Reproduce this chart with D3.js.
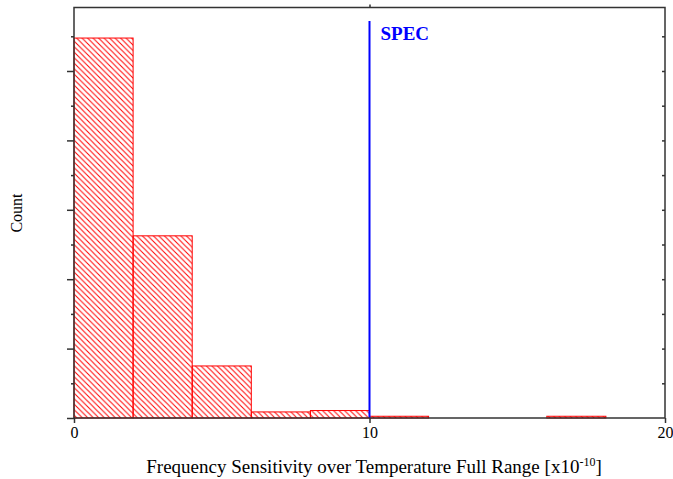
<!DOCTYPE html>
<html>
<head>
<meta charset="utf-8">
<script src="https://cdn.jsdelivr.net/npm/d3@7"></script>
<style>
	body { margin: 0; background: #fff; }
	svg { display: block; font-family: "Liberation Serif", "Times New Roman", serif; }
</style>
</head>
<body>
<script>
//histogram bins (lower edge, width 2) and counts
var binStarts = [0, 2, 4, 6, 8, 10, 12, 14, 16, 18];
var binWidth = 2;
var counts = [219, 105, 30, 3.5, 4.3, 1, 0, 0, 1, 0];
var xTicks = [0, 10, 20];
var specValue = 10;
var specLabel = "SPEC";

(function(){
	var width = 673,
		height = 479,
		plotLeft = 74,
		plotRight = 665,
		plotTop = 7.5,
		plotBottom = 418;

	var x = d3.scaleLinear()
		.domain([0, 20])
		.range([plotLeft, plotRight]);

	var y = d3.scaleLinear()
		.domain([0, 236.6])
		.range([plotBottom, plotTop]);

	var svg = d3.select("body")
		.append("svg")
		.attr("width", width)
		.attr("height", height);

	//red diagonal hatch
	var h = 5.5;
	var pattern = svg.append("defs")
		.append("pattern")
		.attr("id", "hatch")
		.attr("patternUnits", "userSpaceOnUse")
		.attr("width", h)
		.attr("height", h);

	pattern.append("path")
		.attr("d", "M0,0L" + h + "," + h + "M-1," + (h - 1) + "L1," + (h + 1) + "M" + (h - 1) + ",-1L" + (h + 1) + ",1")
		.attr("stroke", "#ff0000")
		.attr("stroke-width", 1);

	var bins = binStarts.map(function(d, i){
		return {x0: d, x1: d + binWidth, n: counts[i]};
	}).filter(function(d){ return d.n > 0; });

	svg.selectAll(".bar")
		.data(bins)
		.enter()
		.append("rect")
		.attr("class", "bar")
		.attr("x", function(d){ return x(d.x0); })
		.attr("y", function(d){ return y(d.n); })
		.attr("width", function(d){ return x(d.x1) - x(d.x0); })
		.attr("height", function(d){ return y(0) - y(d.n); })
		.attr("fill", "url(#hatch)")
		.attr("stroke", "#ff0000")
		.attr("stroke-width", 1);

	//spec line
	svg.append("line")
		.attr("x1", x(specValue))
		.attr("x2", x(specValue))
		.attr("y1", 21)
		.attr("y2", plotBottom)
		.attr("stroke", "#0000ff")
		.attr("stroke-width", 2);

	svg.append("text")
		.attr("x", x(specValue) + 11)
		.attr("y", 40)
		.attr("fill", "#0000ff")
		.attr("font-weight", "bold")
		.attr("font-size", "19px")
		.text(specLabel);

	//axes
	var axisColor = "#333";

	var yMajor = d3.axisLeft(y)
		.tickValues(d3.range(0, 236, 40))
		.tickSize(7)
		.tickFormat("");
	var yMinor = d3.axisLeft(y)
		.tickValues(d3.range(20, 236, 40))
		.tickSize(3)
		.tickFormat("");
	var yRight = d3.axisLeft(y)
		.tickValues(d3.range(20, 236, 20))
		.tickSize(3)
		.tickFormat("");

	svg.append("g")
		.attr("class", "axis")
		.attr("transform", "translate(" + plotLeft + ",0)")
		.call(yMajor);
	svg.append("g")
		.attr("class", "axis")
		.attr("transform", "translate(" + plotLeft + ",0)")
		.call(yMinor);
	svg.append("g")
		.attr("class", "axis")
		.attr("transform", "translate(" + plotRight + ",0)")
		.call(yRight);

	var xAxis = d3.axisBottom(x)
		.tickValues(xTicks)
		.tickSize(5)
		.tickPadding(4)
		.tickFormat(d3.format("d"));

	var xg = svg.append("g")
		.attr("class", "axis")
		.attr("transform", "translate(0," + plotBottom + ")")
		.call(xAxis);

	xg.selectAll("text")
		.attr("font-size", "16px")
		.attr("font-family", "Liberation Serif, serif")
		.attr("fill", "#000");

	svg.append("g")
		.attr("class", "axis")
		.attr("transform", "translate(0," + plotTop + ")")
		.call(d3.axisTop(x).tickValues([10]).tickSize(3).tickFormat(""));

	svg.selectAll(".axis .domain").remove();
	svg.selectAll(".axis line")
		.attr("stroke", axisColor)
		.attr("stroke-width", 1.5);

	//frame
	svg.append("rect")
		.attr("x", plotLeft)
		.attr("y", plotTop)
		.attr("width", plotRight - plotLeft)
		.attr("height", plotBottom - plotTop)
		.attr("fill", "none")
		.attr("stroke", axisColor)
		.attr("stroke-width", 1.5);

	//titles
	var xTitle = svg.append("text")
		.attr("x", 374)
		.attr("y", 473)
		.attr("text-anchor", "middle")
		.attr("font-size", "19px")
		.attr("fill", "#000");
	xTitle.append("tspan").text("Frequency Sensitivity over Temperature Full Range [x10");
	xTitle.append("tspan").attr("dy", -7).attr("font-size", "12px").text("-10");
	xTitle.append("tspan").attr("dy", 7).text("]");

	svg.append("text")
		.attr("transform", "translate(22,213) rotate(-90)")
		.attr("text-anchor", "middle")
		.attr("font-size", "16px")
		.attr("fill", "#000")
		.text("Count");
})();
</script>
</body>
</html>
